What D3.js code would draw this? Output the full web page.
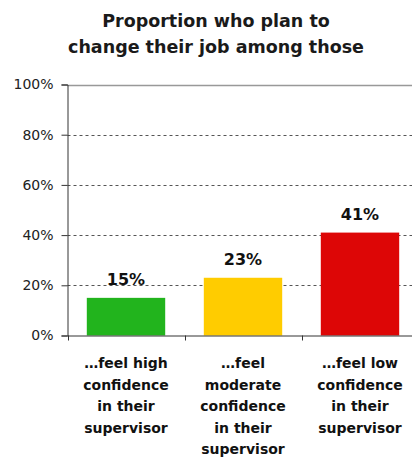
<!DOCTYPE html>
<html><head><meta charset="utf-8">
<script src="https://cdn.jsdelivr.net/npm/d3@7"></script>
<style>body{margin:0;background:#fff}svg{display:block}</style>
</head><body>
<script>
const categories = ["…feel high confidence in their supervisor", "…feel moderate confidence in their supervisor", "…feel low confidence in their supervisor"];
const categoryLines = [["…feel high","confidence","in their","supervisor"],["…feel","moderate","confidence","in their","supervisor"],["…feel low","confidence","in their","supervisor"]];
const values = [15, 23, 41];
const colors = ["#22b41d", "#ffcc00", "#dd0606"];
const yTicks = [0, 20, 40, 60, 80, 100];
const titleLines = ["Proportion who plan to", "change their job among those"];

const W = 412, H = 461;
const m = {left: 67.5, top: 84.5, right: -6.5, bottom: 126};
const svg = d3.select("body").append("svg").attr("width", W).attr("height", H);
const x = d3.scaleBand().domain(categories).range([m.left, W - m.right]).paddingInner(0.33).paddingOuter(0.165);
const y = d3.scaleLinear().domain([0, 100]).range([H - m.bottom + 0.5, m.top]);
const font = "'DejaVu Sans', sans-serif";

svg.selectAll("text.title").data(titleLines).join("text")
  .attr("x", 216).attr("y", (d, i) => 27 + i * 26)
  .attr("text-anchor", "middle").attr("font-family", font).attr("font-weight", "bold")
  .attr("font-size", 17.5).attr("fill", "#1a1a1a").text(d => d);

// gridlines
svg.append("g").selectAll("line").data(yTicks.filter(t => t > 0)).join("line")
  .attr("x1", m.left).attr("x2", W).attr("y1", d => Math.round(y(d)) + 0.5).attr("y2", d => Math.round(y(d)) + 0.5)
  .attr("stroke", d => d === 100 ? "#999" : "#555").attr("stroke-width", d => d === 100 ? 1.5 : 1)
  .attr("stroke-dasharray", d => d === 100 ? null : "3,3");

// bars
svg.append("g").selectAll("rect").data(values).join("rect")
  .attr("x", (d, i) => x(categories[i])).attr("width", x.bandwidth())
  .attr("y", d => y(d)).attr("height", d => y(0) - y(d)).attr("fill", (d, i) => colors[i]);

// value labels
svg.append("g").selectAll("text").data(values).join("text")
  .attr("x", (d, i) => x(categories[i]) + x.bandwidth() / 2).attr("y", d => y(d) - 13)
  .attr("text-anchor", "middle").attr("font-family", font).attr("font-weight", "bold")
  .attr("font-size", 16).attr("fill", "#111").text(d => d + "%");

// y axis
const ya = svg.append("g").attr("transform", `translate(${m.left},0)`)
  .call(d3.axisLeft(y).tickValues(yTicks).tickFormat(d => d + "%").tickSize(6).tickPadding(8));
ya.select(".domain").attr("stroke", "#333");
ya.selectAll(".tick line").attr("stroke", "#333");
ya.selectAll(".tick text").attr("font-family", font).attr("font-size", 14).attr("fill", "#222");

// x axis
const xa = svg.append("g").attr("transform", `translate(0,${y(0)})`)
  .call(d3.axisBottom(x).tickSize(0).tickFormat(""));
xa.select(".domain").attr("stroke", "#333");
const bounds = [0, 1, 2].map(i => x(categories[i]) - x.step() * x.paddingInner() / 2);
bounds[0] = m.left;
svg.append("g").selectAll("line").data(bounds).join("line")
  .attr("x1", d => Math.round(d) + 0.5).attr("x2", d => Math.round(d) + 0.5)
  .attr("y1", y(0)).attr("y2", y(0) + 5).attr("stroke", "#333");

// category labels
categories.forEach((c, i) => {
  svg.append("text").attr("text-anchor", "middle").attr("font-family", font)
    .attr("font-weight", "bold").attr("font-size", 14).attr("fill", "#111")
    .selectAll("tspan").data(categoryLines[i]).join("tspan")
    .attr("x", x(c) + x.bandwidth() / 2).attr("y", (d, j) => 368 + j * 21.5).text(d => d);
});
</script>
</body></html>
